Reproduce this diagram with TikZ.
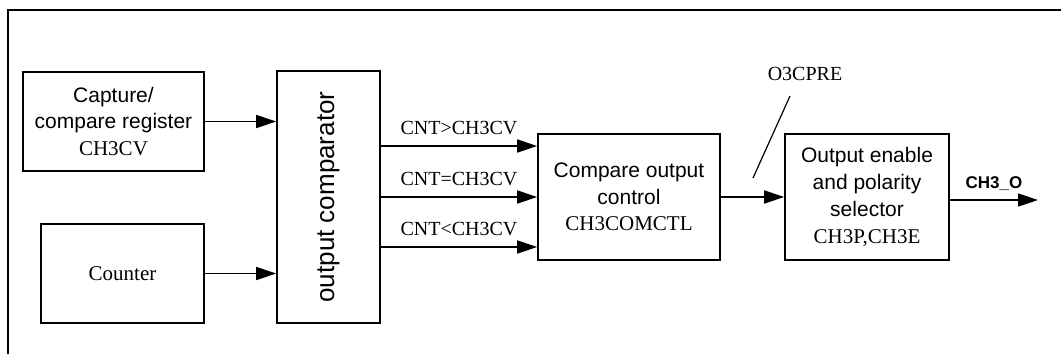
\documentclass[tikz,border=0pt]{standalone}
\usepackage{fontspec}
\setmainfont{Liberation Serif}
\setsansfont{Liberation Sans}
\usetikzlibrary{arrows.meta}
\begin{document}
\begin{tikzpicture}[x=1pt,y=-1pt, line width=1.6pt,
 box/.style={draw, rectangle, inner sep=0pt, align=center, font=\fontsize{21}{26.7}\selectfont},
 arr/.style={-{Triangle[length=20pt,width=13pt]}},
 lbl/.style={font=\fontsize{20}{24}\selectfont, inner sep=0pt}]
\useasboundingbox (0,0) rectangle (1061,354);
\draw (1061,10) -- (8,10) -- (8,354);
\node[box, minimum width=181pt, minimum height=99pt] (cap) at (113.5,121.5)
  {\sffamily Capture/\\ \sffamily compare register\\ \rmfamily CH3CV};
\node[box, minimum width=163pt, minimum height=99pt] (cnt) at (122.5,273.5) {Counter};
\node[box, minimum width=103pt, minimum height=252pt] (cmp) at (328.5,197) {};
\node[rotate=90, inner sep=0pt, font=\sffamily\fontsize{26}{30}\selectfont] (cmptext) at (cmp.center) {output comparator};
\node[box, minimum width=182pt, minimum height=126pt] (coc) at (629,197)
  {\sffamily Compare output\\ \sffamily control\\ \rmfamily CH3COMCTL};
\node[box, minimum width=164pt, minimum height=126pt] (oe) at (867,197)
  {\sffamily Output enable\\ \sffamily and polarity\\ \sffamily selector\\ \rmfamily CH3P,CH3E};
\draw[arr] (cap.east) -- (cap.east -| cmp.west);
\draw[arr] (cnt.east) -- (cnt.east -| cmp.west);
\draw[arr] ([yshift=51pt]cmp.east) -- node[lbl, above=10pt] (lgt) {CNT>CH3CV} ([yshift=51pt]cmp.east -| coc.west);
\draw[arr] (cmp.east) -- node[lbl, above=10pt] (leq) {CNT=CH3CV} (coc.west);
\draw[arr] ([yshift=-50pt]cmp.east) -- node[lbl, above=10pt] (llt) {CNT<CH3CV} ([yshift=-50pt]cmp.east -| coc.west);
\draw[arr] (coc.east) -- (oe.west);
\coordinate (s1) at (753,178);
\coordinate (s2) at (790,96);
\draw[line width=1.2pt] (s1) -- (s2);
\node[lbl] (pre) at (805,74) {O3CPRE};
\coordinate (out) at (1038,200);
\draw[arr] ([yshift=-3pt]oe.east) -- node[above=9pt, inner sep=0pt, font=\sffamily\bfseries\fontsize{17}{20}\selectfont] (lout) {CH3\_O} (out);
\end{tikzpicture}
\end{document}
